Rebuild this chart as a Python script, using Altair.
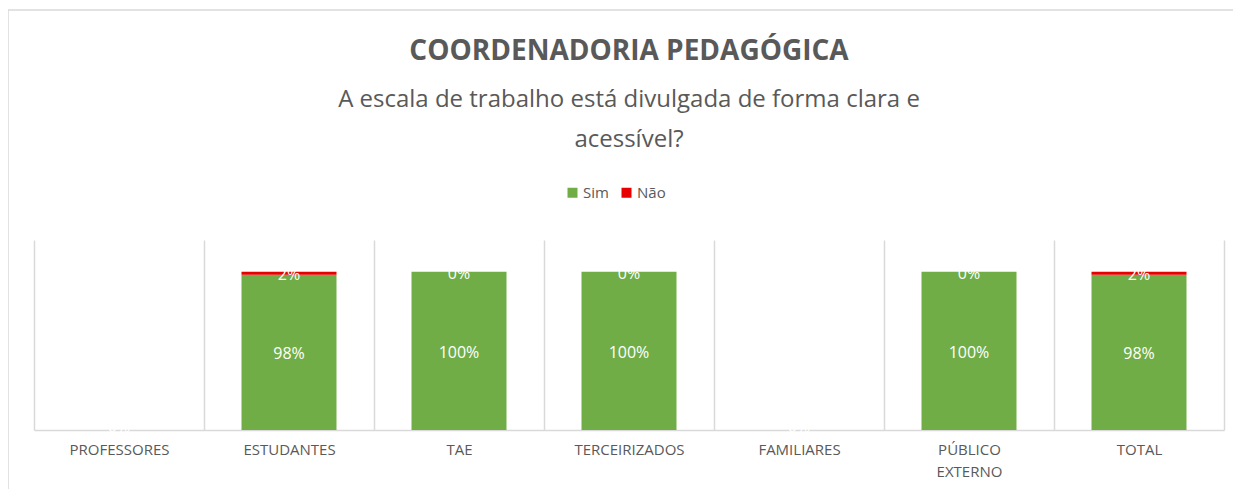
import altair as alt
import pandas as pd

categories = ["PROFESSORES", "ESTUDANTES", "TAE", "TERCEIRIZADOS", "FAMILIARES", "PÚBLICO EXTERNO", "TOTAL"]
sim = [0.0, 0.98, 1.00, 1.00, 0.0, 1.00, 0.98]
nao = [0.0, 0.02, 0.00, 0.00, 0.0, 0.00, 0.02]
series = ["Sim", "Não"]
colors = ["#70AD47", "#E60000"]

rows = []
for c, s, n in zip(categories, sim, nao):
    rows.append({"cat": c, "serie": "Sim", "value": s, "order": 0})
    rows.append({"cat": c, "serie": "Não", "value": n, "order": 1})
df = pd.DataFrame(rows)

FONT = "Open Sans"
GRAY = "#595959"

base = alt.Chart(df).transform_stack(
    stack="value", as_=["y0", "y1"], groupby=["cat"], sort=[alt.SortField("order")]
).transform_calculate(
    mid="(datum.y0 + datum.y1) / 2",
    lbl="format(datum.value, '.0%')"
)

xenc = alt.X(
    "cat:N", sort=categories, title=None,
    scale=alt.Scale(paddingInner=0, paddingOuter=0),
    axis=alt.Axis(
        labelAngle=0, labelFontSize=15, labelColor=GRAY, labelFont=FONT,
        labelPadding=12, labelLineHeight=22, ticks=False,
        domainColor="#d9d9d9", domainWidth=1.5,
        grid=True, gridColor="#d9d9d9", gridWidth=1.5, tickBand="extent",
        labelExpr="datum.label == 'PÚBLICO EXTERNO' ? ['PÚBLICO', 'EXTERNO'] : datum.label",
    ),
)
yscale = alt.Scale(domain=[0, 1.2])

bars = base.mark_bar(size=95).encode(
    x=xenc,
    y=alt.Y("y0:Q", scale=yscale, axis=None),
    y2="y1:Q",
    color=alt.Color(
        "serie:N",
        scale=alt.Scale(domain=series, range=colors),
        legend=alt.Legend(
            title=None, orient="none", direction="horizontal",
            legendX=531, legendY=-55, symbolType="square", symbolSize=100,
            labelFontSize=15, labelColor=GRAY, labelFont=FONT,
            symbolStrokeWidth=0, columnPadding=10, labelOffset=3,
        ),
    ),
)

labels = base.transform_joinaggregate(
    total="sum(value)", groupby=["cat"]
).transform_filter(
    "!(datum.serie == 'Não' && datum.total == 0)"
).transform_calculate(
    ypos="datum.total == 0 ? 0.03 : datum.mid"
).mark_text(color="white", fontSize=16, font=FONT, baseline="middle", dy=2).encode(
    x=alt.X("cat:N", sort=categories),
    y=alt.Y("ypos:Q", scale=yscale),
    text="lbl:N",
)

frame = alt.Chart(df).mark_rect(fill=None, stroke="#d9d9d9", strokeWidth=1.5).encode(
    x=alt.value(-26), x2=alt.value(1215), y=alt.value(-230), y2=alt.value(300)
).transform_filter("datum.cat == 'TOTAL' && datum.serie == 'Sim'")

chart = alt.layer(frame, bars, labels).properties(
    width=1190,
    height=190,
    autosize=alt.AutoSizeParams(type="none"),
    padding={"left": 26, "top": 232, "right": 9, "bottom": 59},
    title=alt.TitleParams(
        text="COORDENADORIA PEDAGÓGICA",
        subtitle=["A escala de trabalho está divulgada de forma clara e", "acessível?"],
        anchor="middle", frame="group", offset=-143,
        font=FONT, fontSize=28, fontWeight="bold", color=GRAY,
        subtitleFont=FONT, subtitleFontSize=24, subtitleColor=GRAY,
        subtitleLineHeight=40, subtitlePadding=22,
    ),
).configure_view(stroke=None)

chart.save("out.html", embed_options={"renderer": "svg", "actions": False})
